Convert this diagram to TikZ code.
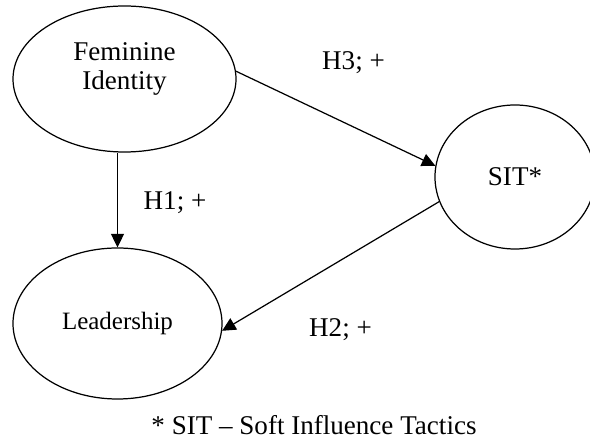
\documentclass[tikz,border=0pt]{standalone}
\usepackage{fontspec}
\setmainfont{Liberation Serif}
\usetikzlibrary{arrows.meta,positioning,shapes.geometric}

\begin{document}
\begin{tikzpicture}[
  construct/.style={draw,ellipse,line width=0.7pt,inner sep=0pt},
  ctext/.style={font=\fontsize{15.4}{17}\selectfont,align=center},
  hyp/.style={-{Triangle[length=2.7mm,width=2.6mm]},line width=0.7pt},
  hlabel/.style={font=\fontsize{15.4}{17}\selectfont,anchor=base}
]
  \clip (0,0) rectangle (11.8,8.92);
  % Constructs
  \node[construct,minimum width=4.46cm,minimum height=2.92cm] (fem) at (2.49,7.34) {};
  \node[ctext] (femtext) at ([yshift=0.2cm]fem.center) {Feminine\\Identity};
  \node[construct,minimum width=4.18cm,minimum height=3.02cm,ctext,font=\fontsize{14.2}{17}\selectfont] (lead) at (2.35,2.45) {Leadership};
  \node[construct,minimum width=3.2cm,minimum height=2.88cm,ctext] (sit) at (10.3,5.38) {SIT*};
  % Hypotheses
  \draw[hyp] (fem.south -| lead) -- (lead.north);
  \draw[hyp] (fem.4) -- (sit.172);
  \draw[hyp] (sit.198) -- (lead.-4);
  \node[hlabel] (h1) at (3.5,4.72) {H1; +};
  \node[hlabel] (h3) at (7.07,7.52) {H3; +};
  \node[hlabel] (h2) at (6.81,2.18) {H2; +};
  % Note
  \node[hlabel] (note) at (6.28,0.22) {* SIT -- Soft Influence Tactics};
\end{tikzpicture}
\end{document}
